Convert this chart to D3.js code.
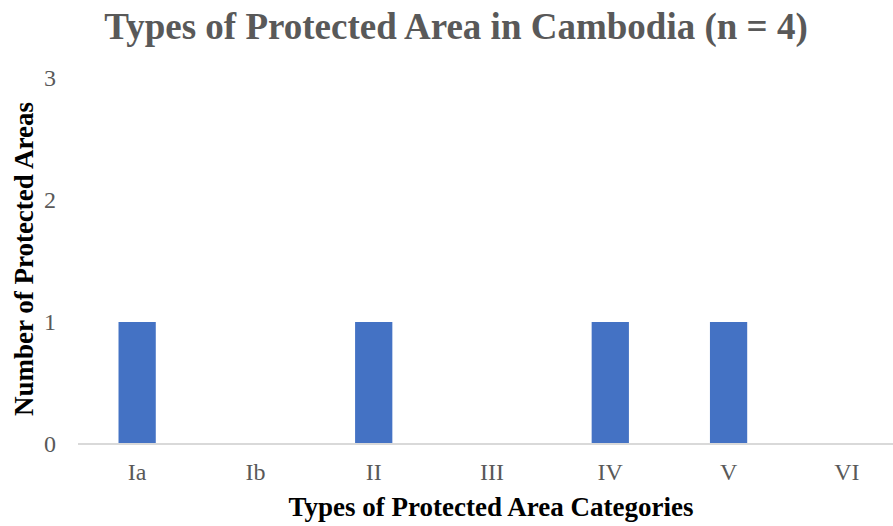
<!DOCTYPE html>
<html>
<head>
<meta charset="utf-8">
<script src="https://cdn.jsdelivr.net/npm/d3@7"></script>
<style>
  body { margin: 0; background: #fff; }
  text { font-family: "Liberation Serif", "Times New Roman", serif; }
</style>
</head>
<body>
<svg id="chart" width="893" height="526"></svg>
<script>
const categories = ["Ia", "Ib", "II", "III", "IV", "V", "VI"];
const counts = [1, 0, 1, 0, 1, 1, 0];
const yTicks = [0, 1, 2, 3];

const svg = d3.select("#chart");

// plot area (right side runs past the window edge like the original crop)
const plotLeft = 78, plotRight = 906, plotTop = 78, plotBottom = 444;

const x = d3.scaleBand()
    .domain(categories)
    .range([plotLeft, plotRight])
    .paddingInner(0.685)
    .paddingOuter(0.3425);

const y = d3.scaleLinear()
    .domain([0, 3])
    .range([plotBottom, plotTop]);

// bars
svg.selectAll("rect.bar")
    .data(categories.map((c, i) => ({c: c, v: counts[i]})))
    .enter()
    .append("rect")
        .attr("class", "bar")
        .attr("x", d => x(d.c))
        .attr("y", d => y(d.v))
        .attr("width", x.bandwidth())
        .attr("height", d => y(0) - y(d.v))
        .attr("fill", "#4472c4");

// x axis line
svg.append("line")
    .attr("x1", plotLeft)
    .attr("x2", plotRight)
    .attr("y1", y(0))
    .attr("y2", y(0))
    .attr("stroke", "#d9d9d9")
    .attr("stroke-width", 2);

// y tick labels
svg.selectAll("text.ytick")
    .data(yTicks)
    .enter()
    .append("text")
        .attr("class", "ytick")
        .attr("x", 56)
        .attr("y", d => y(d))
        .attr("dy", "0.35em")
        .attr("text-anchor", "end")
        .attr("font-size", 24)
        .attr("fill", "#595959")
        .text(d => d);

// x tick labels
svg.selectAll("text.xtick")
    .data(categories)
    .enter()
    .append("text")
        .attr("class", "xtick")
        .attr("x", d => x(d) + x.bandwidth() / 2)
        .attr("y", 480)
        .attr("text-anchor", "middle")
        .attr("font-size", 24)
        .attr("fill", "#595959")
        .text(d => d);

// title
svg.append("text")
    .attr("x", 456)
    .attr("y", 39)
    .attr("text-anchor", "middle")
    .attr("font-size", 37)
    .attr("font-weight", "bold")
    .attr("fill", "#595959")
    .text("Types of Protected Area in Cambodia (n = 4)");

// axis titles
svg.append("text")
    .attr("transform", "translate(33,259) rotate(-90)")
    .attr("text-anchor", "middle")
    .attr("font-size", 27)
    .attr("font-weight", "bold")
    .attr("fill", "#000")
    .text("Number of Protected Areas");

svg.append("text")
    .attr("x", 491)
    .attr("y", 516)
    .attr("text-anchor", "middle")
    .attr("font-size", 27)
    .attr("font-weight", "bold")
    .attr("fill", "#000")
    .text("Types of Protected Area Categories");
</script>
</body>
</html>
